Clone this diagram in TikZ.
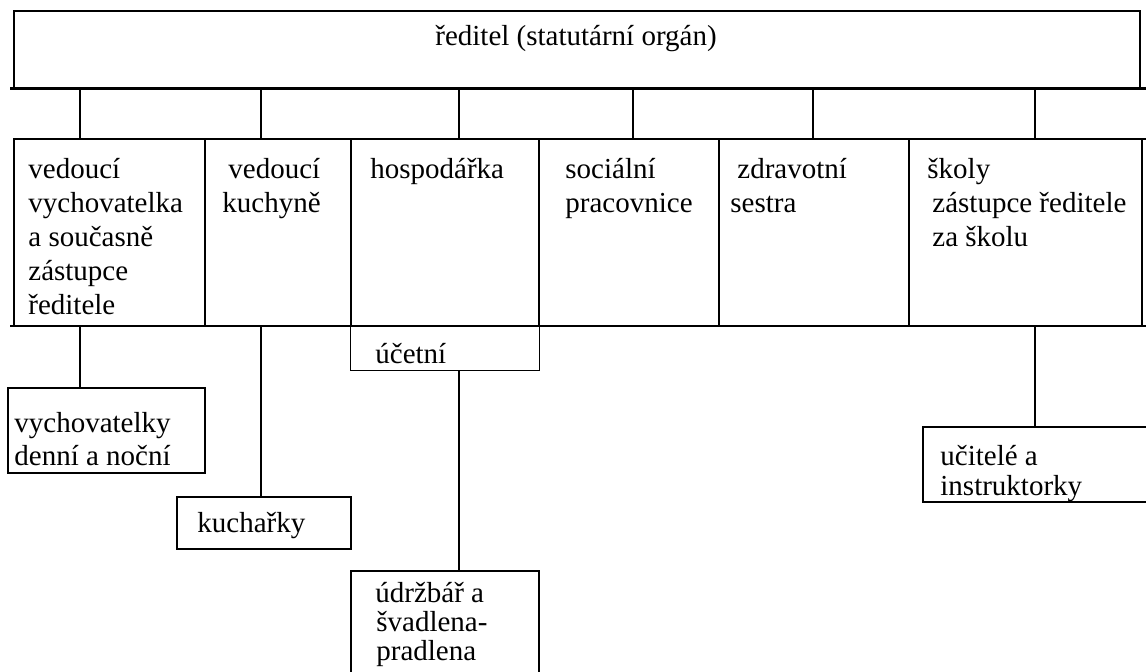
\documentclass[tikz,border=0pt]{standalone}
\usepackage{fontspec}
\setmainfont{Liberation Serif}
\usetikzlibrary{fit}

\tikzset{
	box/.style={draw, line width=0.8pt, inner sep=0pt},
	lbl/.style={anchor=base west, inner sep=0pt, align=left, font=\fontsize{14.5}{17}\selectfont},
	lbltight/.style={lbl, font=\fontsize{14.5}{15}\selectfont},
	link/.style={line width=0.8pt}
}

\begin{document}
\begin{tikzpicture}[x=0.5pt, y=-0.5pt]
	%\draw[help lines] (0,0) grid[step=50] (1146,671);
	\useasboundingbox (0,0) rectangle (1146,671);
	% director
	\node[box, line width=1.1pt, fit={(14,11) (1140,88)}] (reditel) {};
	\draw[line width=1.5pt] (10,88) -- (1146,88);
	\node[lbl, anchor=base] (treditel) at (576,45) {ředitel (statutární orgán)};
	% second row (labels sit on their last line)
	\node[box, fit={(14,139) (205,326)}] (vedvych) {};
	\node[box, fit={(205,139) (351,326)}] (vedkuch) {};
	\node[box, fit={(351,139) (539,326)}] (hosp) {};
	\node[box, fit={(539,139) (719,326)}] (soc) {};
	\node[box, fit={(719,139) (909,326)}] (zdrav) {};
	\node[box, fit={(909,139) (1142,326)}] (skola) {};
	\draw[link] (1142,139) -- (1146,139) (10,326) -- (14,326) (1142,326) -- (1146,326);
	\node[lbl] (tvedvych) at (28,314) {vedoucí\\vychovatelka\\a současně\\zástupce\\ředitele};
	\node[lbl] (tvedkuch) at (222,212) {\hspace*{3pt}vedoucí\\kuchyně};
	\node[lbl] (thosp) at (370,178) {hospodářka};
	\node[lbl] (tsoc) at (565,212) {sociální\\pracovnice};
	\node[lbl] (tzdrav) at (730,212) {\hspace*{3.5pt}zdravotní\\sestra};
	\node[lbl] (tskola) at (927,246) {školy\\\hspace*{2.5pt}zástupce ředitele\\\hspace*{2.5pt}za školu};
	% links from director
	\foreach \n/\x in {vedvych/80, vedkuch/261, hosp/459, soc/633, zdrav/813, skola/1035}
		\draw[link] (reditel.south -| \x,0) -- (\n.north -| \x,0);
	% third level
	\node[box, fit={(8,388) (205,473)}] (vych) {};
	\node[lbl, font=\fontsize{14.5}{16.5}\selectfont] (tvych) at (14,465) {vychovatelky\\denní a noční};
	\node[box, fit={(177,497) (351,549)}] (kuch) {};
	\node[lbl] (tkuch) at (197,532) {kuchařky};
	\node[inner sep=0pt, fit={(351,326) (539,370)}] (ucet) {};
	\draw[link] (ucet.north west) |- (ucet.south east) -- (ucet.north east);
	\node[lbl] (tucet) at (375,363) {účetní};
	\node[box, fit={(351,571) (539,700)}] (udrz) {};
	\node[lbltight, font=\fontsize{14.5}{14.5}\selectfont] (tudrz) at (375,660) {údržbář a\\\hspace*{0.5pt}švadlena-\\\hspace*{0.5pt}pradlena};
	\node[box, fit={(923,427) (1160,502)}] (ucit) {};
	\node[lbltight] (tucit) at (940,495) {učitelé a\\instruktorky};
	% links to third level
	\draw[link] (vedvych.south -| 80,0) -- (vych.north -| 80,0);
	\draw[link] (vedkuch.south -| 261,0) -- (kuch.north -| 261,0);
	\draw[link] (ucet.south -| 459,0) -- (udrz.north -| 459,0);
	\draw[link] (skola.south -| 1035,0) -- (ucit.north -| 1035,0);
\end{tikzpicture}
\end{document}
